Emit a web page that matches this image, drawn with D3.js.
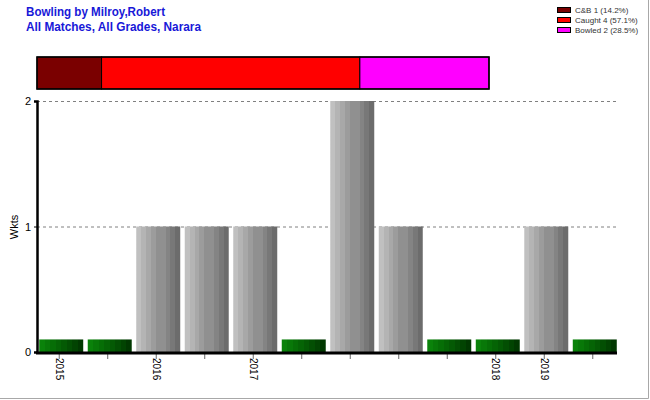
<!DOCTYPE html>
<html><head><meta charset="utf-8">
<script src="https://cdn.jsdelivr.net/npm/d3@7"></script>
<style>body{margin:0;background:#fff}svg{display:block}text{font-family:"Liberation Sans",Arial,sans-serif}</style>
</head><body>
<script>
const titleLines = ["Bowling by Milroy,Robert", "All Matches, All Grades, Narara"];
const matches = ["m1","m2","m3","m4","m5","m6","m7","m8","m9","m10","m11","m12"];
const wickets = [0,0,1,1,1,0,2,1,0,0,1,0];
const tickLabels = ["2015","","2016","","2017","","","","","2018","2019",""];
const dismissals = ["C&B","Caught","Bowled"];
const dismissalCounts = [1,4,2];
const dismissalPct = ["14.2%","57.1%","28.5%"];
const dismissalColors = ["#7a0000","#ff0000","#ff00ff"];
const yTicks = [0,1,2];
const zeroStub = 0.1;

const W=650,H=400;
const svg=d3.select("body").append("svg").attr("width",W).attr("height",H);
const defs=svg.append("defs");
function grad(id, stops){
  const g=defs.append("linearGradient").attr("id",id).attr("x1","0").attr("x2","1").attr("y1","0").attr("y2","0");
  const n=stops.length;
  stops.forEach((c,i)=>{
    g.append("stop").attr("offset",(i/n)).attr("stop-color",c);
    g.append("stop").attr("offset",((i+1)/n)).attr("stop-color",c);
  });
}
grad("gGray",["#c0c0c0","#b4b4b4","#a8a8a8","#9c9c9c","#909090","#909090","#848484","#787878","#6c6c6c"]);
grad("gGreen",["#0a820a","#087808","#066e06","#056405","#045a04","#034f03","#024402","#013801"]);

// right/bottom frame
svg.append("path").attr("d",`M${W-1.5},0V${H-1.5}H0`).attr("fill","none").attr("stroke","#a8a8a8").attr("stroke-width",1);

// title
svg.selectAll("text.title").data(titleLines).join("text")
  .attr("x",26).attr("y",(d,i)=>16+i*15)
  .attr("font-size",12).attr("font-weight","bold").attr("fill","#1818d8")
  .attr("textLength",(d,i)=>i===0?139:175).attr("lengthAdjust","spacingAndGlyphs").text(d=>d);

// legend
const lg=svg.append("g");
dismissals.forEach((d,i)=>{
  lg.append("rect").attr("x",557.5).attr("y",7.5+i*10).attr("width",13).attr("height",5)
    .attr("fill",dismissalColors[i]).attr("stroke","#000");
  lg.append("text").attr("x",575).attr("y",13+i*10).attr("font-size",8).attr("fill","#333")
    .text(`${d} ${dismissalCounts[i]} (${dismissalPct[i]})`);
});

// stacked proportion bar
const total=d3.sum(dismissalCounts);
const px=d3.scaleLinear().domain([0,total]).range([37,489]);
let acc=0;
dismissalCounts.forEach((c,i)=>{
  svg.append("rect").attr("x",px(acc)).attr("y",57).attr("width",px(acc+c)-px(acc)).attr("height",32)
    .attr("fill",dismissalColors[i]).attr("stroke","#000").attr("stroke-width",1);
  acc+=c;
});
svg.append("rect").attr("x",px(0)).attr("y",57).attr("width",px(total)-px(0)).attr("height",32)
  .attr("fill","none").attr("stroke","#000").attr("stroke-width",1.5);

// scales
const x=d3.scaleBand().domain(matches).range([37,619]).paddingInner(0.093).paddingOuter(0.046);
const y=d3.scaleLinear().domain([0,2]).range([352,101]);

// gridlines
svg.selectAll("line.grid").data(yTicks.filter(t=>t>0)).join("line")
  .attr("x1",37).attr("x2",619).attr("y1",d=>y(d)+0.5).attr("y2",d=>y(d)+0.5)
  .attr("stroke","#808080").attr("stroke-dasharray","3,3");

// bars
svg.selectAll("rect.bar").data(matches).join("rect")
  .attr("x",d=>x(d)).attr("width",x.bandwidth())
  .attr("y",(d,i)=>y(Math.max(wickets[i],zeroStub)))
  .attr("height",(d,i)=>y(0)-y(Math.max(wickets[i],zeroStub)))
  .attr("fill",(d,i)=>wickets[i]>0?"url(#gGray)":"url(#gGreen)");

// y axis
const ya=svg.append("g").attr("transform","translate(37,0)")
  .call(d3.axisLeft(y).tickValues(yTicks).tickFormat(d3.format("d")).tickSize(3));
ya.select(".domain").attr("stroke","#000").attr("stroke-width",2.5);
ya.selectAll("text").attr("font-size",11).attr("fill","#000").attr("font-family","Liberation Sans, Arial");
svg.append("text").attr("transform","translate(18,227) rotate(-90)").attr("text-anchor","middle")
  .attr("font-size",11).attr("fill","#000").text("Wkts");

// x axis
const xa=svg.append("g").attr("transform","translate(-2,353)")
  .call(d3.axisBottom(x).tickFormat((d,i)=>tickLabels[i]).tickSize(6).tickSizeOuter(0));
xa.select(".domain").remove();
xa.selectAll(".tick line").attr("stroke","#666");
xa.selectAll(".tick text").attr("font-size",10).attr("fill","#000")
  .attr("transform","rotate(90)").attr("text-anchor","start").attr("dy","0.35em")
  .attr("x",5).attr("y",0).attr("font-family","Liberation Sans, Arial");
svg.append("line").attr("x1",36).attr("x2",617).attr("y1",353).attr("y2",353)
  .attr("stroke","#000").attr("stroke-width",3);
</script>
</body></html>
